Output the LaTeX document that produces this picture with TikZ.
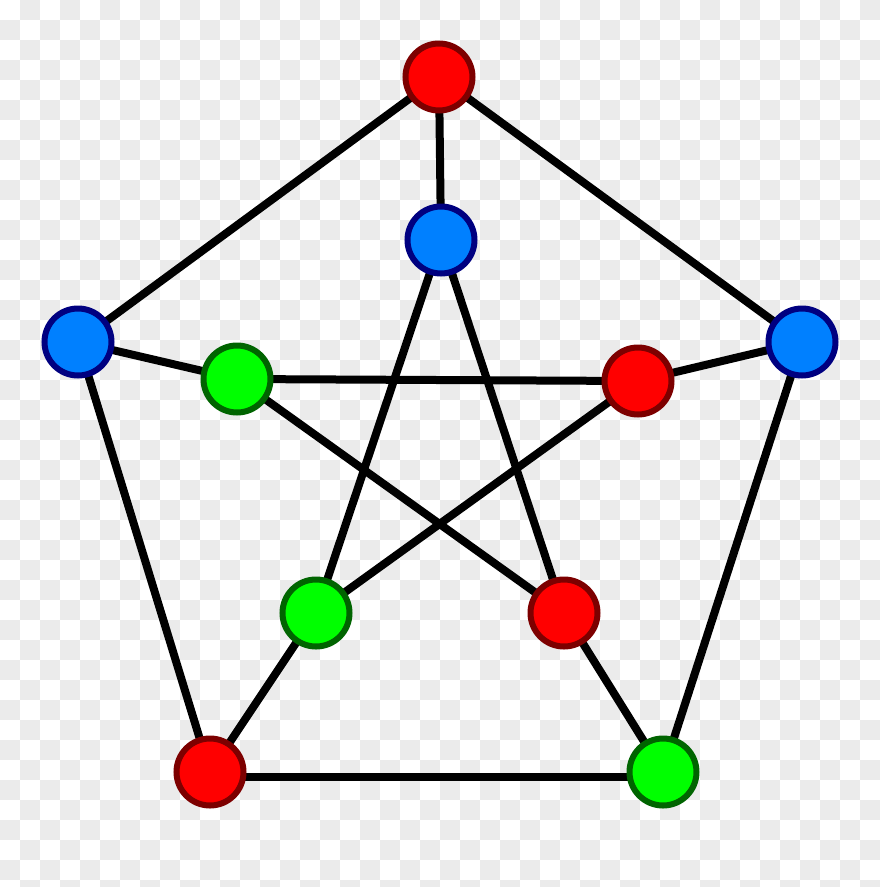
\documentclass[tikz,border=0pt]{standalone}
\definecolor{chk}{RGB}{235,235,235}
\definecolor{rfill}{RGB}{255,0,0}
\definecolor{rline}{RGB}{125,0,0}
\definecolor{bfill}{RGB}{0,128,255}
\definecolor{bline}{RGB}{0,0,128}
\definecolor{gfill}{RGB}{0,255,0}
\definecolor{gline}{RGB}{0,100,0}
\pgfdeclarelayer{board}
\pgfdeclarelayer{edges}
\pgfsetlayers{board,edges,main}
\begin{document}
\begin{tikzpicture}[x=1pt,y=-1pt,
  vtx/.style={circle,minimum size=67pt,inner sep=0pt,line width=6pt},
  rv/.style={vtx,fill=rfill,draw=rline},
  bv/.style={vtx,fill=bfill,draw=bline},
  gv/.style={vtx,fill=gfill,draw=gline},
  edge/.style={line width=8pt,black}]
\useasboundingbox (0,0) rectangle (880,887);
\begin{pgfonlayer}{board}
\clip (0,0) rectangle (880,887);
\fill[white] (0,0) rectangle (880,887);
\foreach \j in {0,...,44}{
  \foreach \i in {0,...,21}{
    \pgfmathtruncatemacro\cx{2*\i+1-mod(\j,2)}
    \fill[chk] (\cx*20,\j*20) rectangle ++(20,20);
  }
}
\end{pgfonlayer}
% outer
\node[rv] (o1) at (439,77) {};
\node[bv] (o2) at (802,342) {};
\node[gv] (o3) at (663,772) {};
\node[rv] (o4) at (210,772) {};
\node[bv] (o5) at (78,342) {};
% inner
\node[bv] (i1) at (441,240) {};
\node[rv] (i2) at (638,381) {};
\node[rv] (i3) at (564,613) {};
\node[gv] (i4) at (316,613) {};
\node[gv] (i5) at (237,379) {};
\begin{pgfonlayer}{edges}
\draw[edge] (o1.center) -- (o2.center) -- (o3.center);
\draw[edge] ([yshift=-5pt]o3.center) -- ([yshift=-5pt]o4.center);
\draw[edge] (o4.center) -- (o5.center) -- (o1.center);
\draw[edge] (o1.center) -- (i1.center);
\draw[edge] (o2.center) -- (i2.center);
\draw[edge] (o3.center) -- (i3.center);
\draw[edge] (o4.center) -- (i4.center);
\draw[edge] (o5.center) -- (i5.center);
\draw[edge] (i1.center) -- (i4.center);
\draw[edge] (i1.center) -- (i3.center);
\draw[edge] (i5.center) -- (i2.center);
\draw[edge] (i5.center) -- (i3.center);
\draw[edge] (i2.center) -- (i4.center);
\end{pgfonlayer}
\end{tikzpicture}
\end{document}
